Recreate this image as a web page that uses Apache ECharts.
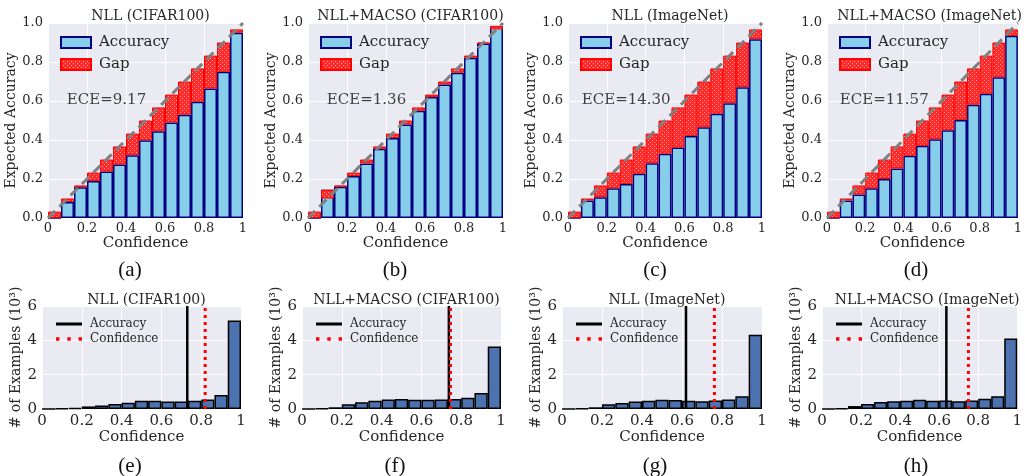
<!DOCTYPE html>
<html>
<head>
<meta charset="utf-8">
<title>Reliability diagrams</title>
<script src="https://cdn.jsdelivr.net/npm/echarts@6/dist/echarts.min.js"></script>
<style>
    html, body { margin: 0; padding: 0; background: #fff; }
    #main { width: 1025px; height: 476px; }
</style>
</head>
<body>
<div id="main"></div>
<script>
    // 15 confidence bins
    const bins = ['b1', 'b2', 'b3', 'b4', 'b5', 'b6', 'b7', 'b8', 'b9', 'b10', 'b11', 'b12', 'b13', 'b14', 'b15'];
    // expected accuracy (top of the gap bars)
    const binConf = [0.033, 0.1, 0.167, 0.233, 0.3, 0.367, 0.433, 0.5, 0.567, 0.633, 0.7, 0.767, 0.833, 0.9, 0.967];

    // accuracy per bin
    const accNllCifar = [0, 0.082, 0.158, 0.19, 0.238, 0.274, 0.322, 0.399, 0.445, 0.49, 0.53, 0.596, 0.664, 0.75, 0.95];
    const accMacsoCifar = [0, 0.145, 0.16, 0.215, 0.28, 0.355, 0.41, 0.48, 0.55, 0.62, 0.685, 0.745, 0.822, 0.895, 0.985];
    const accNllImagenet = [0, 0.09, 0.107, 0.152, 0.174, 0.227, 0.281, 0.33, 0.361, 0.421, 0.465, 0.535, 0.589, 0.671, 0.917];
    const accMacsoImagenet = [0, 0.09, 0.121, 0.152, 0.2, 0.254, 0.319, 0.37, 0.404, 0.45, 0.503, 0.581, 0.637, 0.722, 0.934];

    // # of examples per bin (10^3)
    const cntNllCifar = [0.01, 0.02, 0.06, 0.15, 0.2, 0.29, 0.37, 0.48, 0.48, 0.43, 0.43, 0.48, 0.56, 0.81, 5.15];
    const cntMacsoCifar = [0.01, 0.03, 0.1, 0.27, 0.39, 0.48, 0.56, 0.58, 0.54, 0.54, 0.56, 0.58, 0.66, 0.93, 3.64];
    const cntNllImagenet = [0.01, 0.03, 0.1, 0.27, 0.35, 0.43, 0.48, 0.54, 0.52, 0.48, 0.45, 0.5, 0.56, 0.75, 4.32];
    const cntMacsoImagenet = [0.01, 0.03, 0.17, 0.29, 0.41, 0.45, 0.48, 0.54, 0.48, 0.5, 0.45, 0.5, 0.6, 0.75, 4.1];

    const titles = ['NLL (CIFAR100)', 'NLL+MACSO (CIFAR100)', 'NLL (ImageNet)', 'NLL+MACSO (ImageNet)'];
    const eceValues = ['9.17', '1.36', '14.30', '11.57'];
    const accList = [accNllCifar, accMacsoCifar, accNllImagenet, accMacsoImagenet];
    const cntList = [cntNllCifar, cntMacsoCifar, cntNllImagenet, cntMacsoImagenet];
    const avgAccuracy = [0.73, 0.738, 0.62, 0.637];
    const avgConfidence = [0.82, 0.746, 0.762, 0.75];
    const panelLabels = ['(a)', '(b)', '(c)', '(d)', '(e)', '(f)', '(g)', '(h)'];

    const serif = 'DejaVu Serif';
    const textColor = '#262626';

    // red hatch for the gap bars
    const hatch = document.createElement('canvas');
    hatch.width = 4;
    hatch.height = 4;
    const hctx = hatch.getContext('2d');
    hctx.fillStyle = '#ff2a2a';
    hctx.fillRect(0, 0, 4, 4);
    hctx.fillStyle = '#ffa0a0';
    hctx.fillRect(0, 0, 1, 1);
    hctx.fillRect(2, 2, 1, 1);
    const hatchFill = { image: hatch, repeat: 'repeat' };

    const topGrids = [
        { left: 48, top: 23, width: 195, height: 195 },
        { left: 308, top: 23, width: 195, height: 195 },
        { left: 568, top: 23, width: 194, height: 195 },
        { left: 827, top: 23, width: 195, height: 195 }
    ];
    const botGrids = [
        { left: 42, top: 306, width: 199, height: 103 },
        { left: 302, top: 306, width: 199, height: 103 },
        { left: 562, top: 306, width: 200, height: 103 },
        { left: 822, top: 306, width: 200, height: 103 }
    ];
    const labelX = [125, 390, 650, 911];

    const grid = [], xAxis = [], yAxis = [], series = [], title = [], legend = [];

    function xLabel(v) {
        if (v === 0) return '0';
        if (v === 1) return '1';
        return v.toFixed(1);
    }

    function addGrid(g, top) {
        const gi = grid.length;
        grid.push(Object.assign({
            show: true, backgroundColor: '#eaeaf2', borderWidth: 0, containLabel: false
        }, g));
        const fs = top ? 13 : 15;
        // value axis for ticks / lines
        xAxis.push({
            type: 'value', gridIndex: gi, min: 0, max: 1, interval: 0.2,
            name: 'Confidence', nameLocation: 'middle', nameGap: top ? 15 : 20,
            nameTextStyle: { fontFamily: serif, fontSize: 15, color: textColor },
            axisLine: { show: false }, axisTick: { show: false },
            axisLabel: { fontFamily: serif, fontSize: fs, color: textColor, margin: top ? 4 : 5, formatter: xLabel },
            splitLine: { lineStyle: { color: '#ffffff', width: 1 } }
        });
        // category axis for the bins, hidden
        xAxis.push({
            type: 'category', gridIndex: gi, data: bins, boundaryGap: true,
            show: false
        });
        yAxis.push({
            type: 'value', gridIndex: gi, min: 0, max: top ? 1 : 6, interval: top ? 0.2 : 2,
            name: top ? 'Expected Accuracy' : '# of Examples (10³)',
            nameLocation: 'middle', nameGap: top ? 28 : 18,
            nameTextStyle: { fontFamily: serif, fontSize: 14, color: textColor },
            axisLine: { show: false }, axisTick: { show: false },
            axisLabel: {
                fontFamily: serif, fontSize: fs, color: textColor, margin: 5,
                formatter: top ? (v => v.toFixed(1)) : (v => String(v))
            },
            splitLine: { lineStyle: { color: '#ffffff', width: 1 } }
        });
        return gi;
    }

    for (let k = 0; k < 4; k++) {
        // ---------- reliability diagram ----------
        const gi = addGrid(topGrids[k], true);
        const valX = 2 * gi, catX = 2 * gi + 1;
        const acc = accList[k];
        const gapBase = acc.map((a, i) => Math.min(a, binConf[i]));
        const gapSize = acc.map((a, i) => Math.abs(binConf[i] - a));

        series.push({
            name: 'Accuracy', type: 'bar', xAxisIndex: catX, yAxisIndex: gi,
            data: acc, barCategoryGap: '0%', barGap: '-100%',
            itemStyle: { color: '#87ceeb', borderColor: '#000080', borderWidth: 1.5 },
            z: 2
        });
        series.push({
            name: 'base' + k, type: 'bar', xAxisIndex: catX, yAxisIndex: gi, stack: 'gap' + k,
            data: gapBase, barCategoryGap: '0%', barGap: '-100%',
            itemStyle: { color: 'rgba(0,0,0,0)' }, silent: true, z: 3
        });
        series.push({
            name: 'Gap', type: 'bar', xAxisIndex: catX, yAxisIndex: gi, stack: 'gap' + k,
            data: gapSize, barCategoryGap: '0%', barGap: '-100%',
            itemStyle: { color: hatchFill, borderColor: '#ff0000', borderWidth: 1 },
            z: 3
        });
        // perfect calibration diagonal
        series.push({
            type: 'line', xAxisIndex: valX, yAxisIndex: gi,
            data: [[0, 0], [1, 1]], symbol: 'none',
            lineStyle: { color: '#808080', width: 3, type: [10, 6] }, z: 5
        });
        // ECE annotation
        series.push({
            type: 'scatter', xAxisIndex: valX, yAxisIndex: gi,
            data: [[0.3, 0.605]], symbolSize: 0, z: 6,
            label: {
                show: true, position: 'inside', formatter: 'ECE=' + eceValues[k],
                fontFamily: serif, fontSize: 15, color: '#111'
            }
        });
        title.push({
            text: titles[k], left: topGrids[k].left + topGrids[k].width / 2, top: 4,
            textAlign: 'center',
            textStyle: { fontFamily: serif, fontSize: 14, fontWeight: 'normal', color: textColor }
        });
        legend.push({
            left: topGrids[k].left + 7, top: 30, orient: 'vertical',
            itemWidth: 30, itemHeight: 11, itemGap: 7,
            textStyle: { fontFamily: serif, fontSize: 15, color: textColor, padding: [0, 0, 0, 3] },
            data: [
                { name: 'Accuracy', icon: 'rect' },
                { name: 'Gap', icon: 'rect' }
            ]
        });
        title.push({
            text: panelLabels[k], left: labelX[k], top: 255, textAlign: 'center',
            textStyle: { fontFamily: 'Liberation Serif', fontSize: 21, fontWeight: 'normal', color: '#111' }
        });
    }

    for (let k = 0; k < 4; k++) {
        // ---------- confidence histogram ----------
        const gi = addGrid(botGrids[k], false);
        const valX = 2 * gi, catX = 2 * gi + 1;

        series.push({
            type: 'bar', xAxisIndex: catX, yAxisIndex: gi,
            data: cntList[k], barCategoryGap: '0%',
            itemStyle: { color: '#4c72b0', borderColor: '#000', borderWidth: 1.5 },
            z: 2
        });
        series.push({
            name: 'Accuracy ', type: 'line', xAxisIndex: valX, yAxisIndex: gi,
            data: [[avgAccuracy[k], 0], [avgAccuracy[k], 6]], symbol: 'none',
            lineStyle: { color: '#000', width: 2.5 }, itemStyle: { color: '#000' }, z: 5
        });
        series.push({
            name: 'Confidence', type: 'line', xAxisIndex: valX, yAxisIndex: gi,
            data: [[avgConfidence[k], 0], [avgConfidence[k], 6]], symbol: 'none',
            lineStyle: { color: '#ff0000', width: 3, type: [3, 4] }, itemStyle: { color: '#ff0000' }, z: 6
        });
        title.push({
            text: titles[k], left: botGrids[k].left + botGrids[k].width / 2, top: 288,
            textAlign: 'center',
            textStyle: { fontFamily: serif, fontSize: 14, fontWeight: 'normal', color: textColor }
        });
        legend.push({
            left: botGrids[k].left + 9, top: 313, orient: 'vertical',
            itemWidth: 26, itemHeight: 10, itemGap: 3,
            textStyle: { fontFamily: serif, fontSize: 12, color: textColor, padding: [0, 0, 0, 3] },
            data: [
                { name: 'Accuracy ', icon: 'path://M0,0 L26,0 L26,3 L0,3 Z', itemStyle: { color: '#000' } },
                { name: 'Confidence', icon: 'path://M0,0 L3,0 L3,3 L0,3 Z M10,0 L13,0 L13,3 L10,3 Z M20,0 L23,0 L23,3 L20,3 Z', itemStyle: { color: '#ff0000' } }
            ]
        });
        title.push({
            text: panelLabels[k + 4], left: labelX[k], top: 451, textAlign: 'center',
            textStyle: { fontFamily: 'Liberation Serif', fontSize: 21, fontWeight: 'normal', color: '#111' }
        });
    }

    const option = {
        animation: false,
        title: title,
        legend: legend,
        grid: grid,
        xAxis: xAxis,
        yAxis: yAxis,
        series: series
    };

    const myChart = echarts.init(document.getElementById('main'));
    myChart.setOption(option);
</script>
</body>
</html>
